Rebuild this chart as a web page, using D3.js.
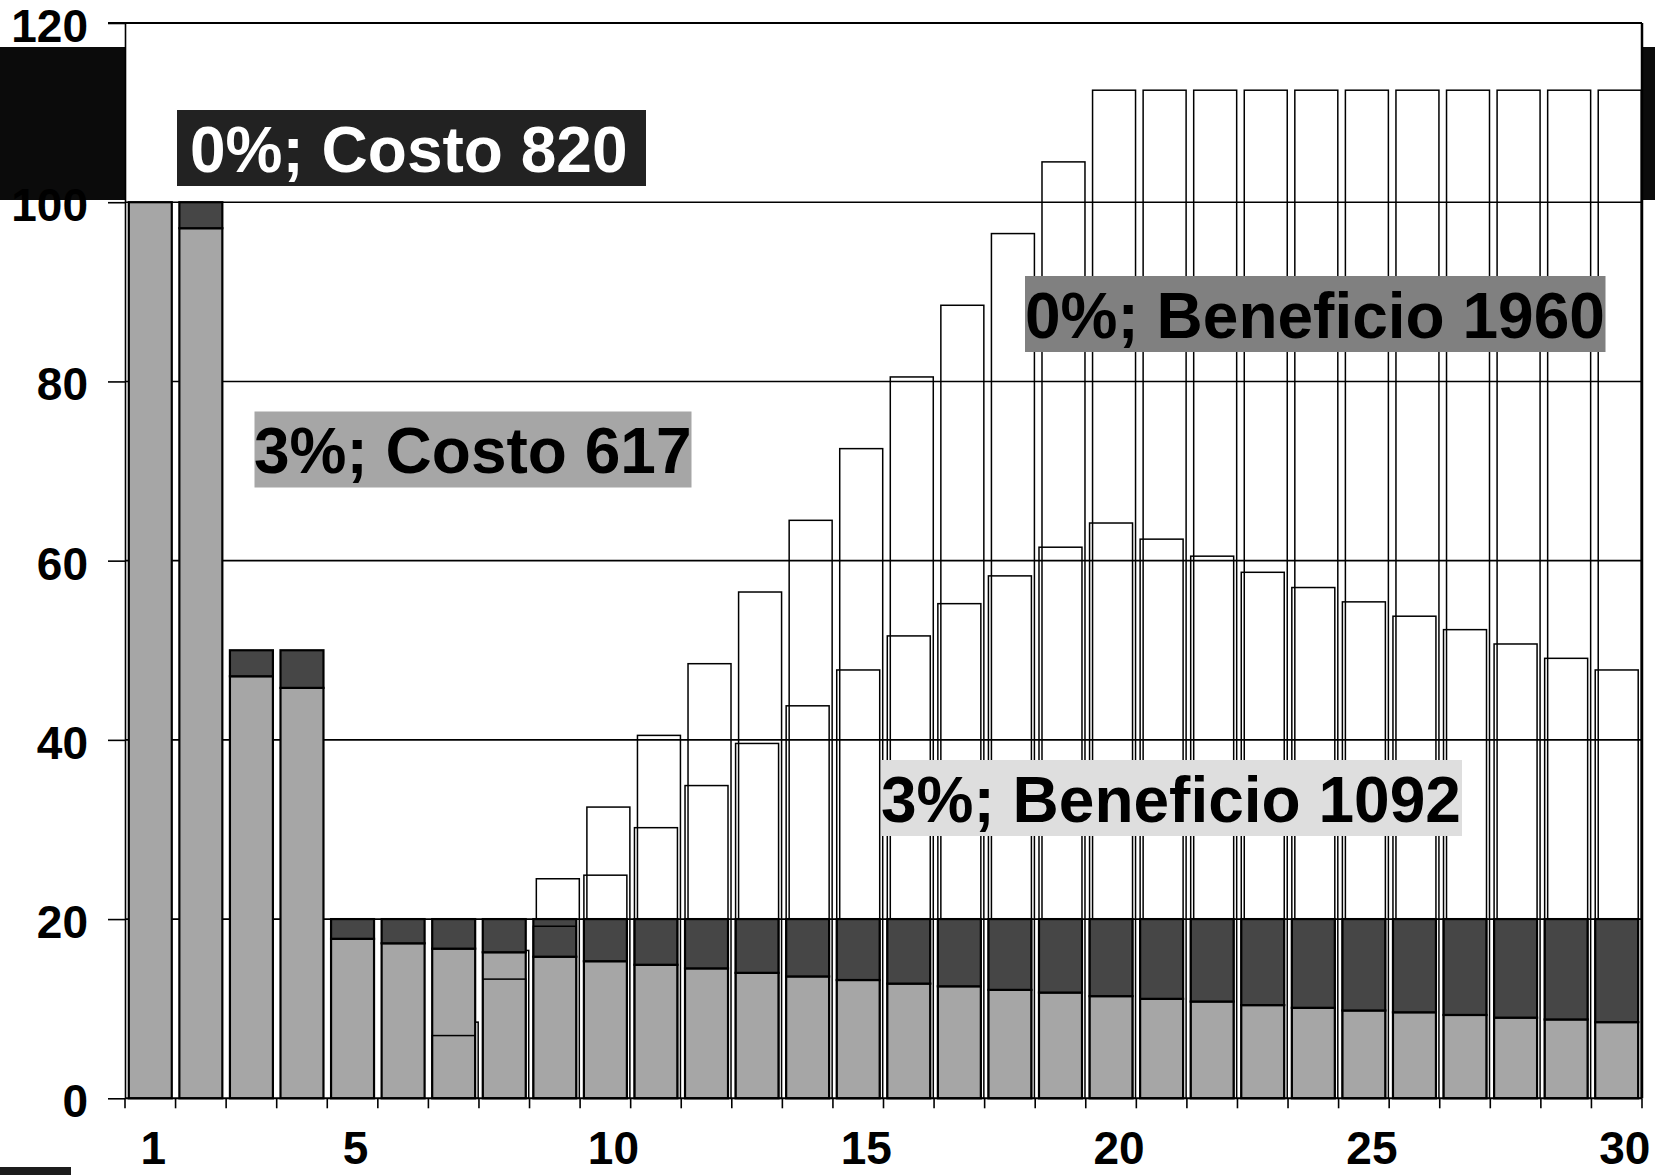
<!DOCTYPE html>
<html>
<head>
<meta charset="utf-8">
<script src="https://cdn.jsdelivr.net/npm/d3@7"></script>
<style>
  html, body { margin: 0; padding: 0; background: #fff; }
  svg { display: block; }
</style>
</head>
<body>
<svg id="chart" width="1655" height="1175"></svg>
<script>
// Year of the project
const years = [1, 2, 3, 4, 5, 6, 7, 8, 9, 10, 11, 12, 13, 14, 15,
               16, 17, 18, 19, 20, 21, 22, 23, 24, 25, 26, 27, 28, 29, 30];

// Yearly cost, undiscounted (0%)
const costAt0 = [100, 100, 50, 50, 20, 20, 20, 20, 20, 20, 20, 20, 20, 20, 20,
                 20, 20, 20, 20, 20, 20, 20, 20, 20, 20, 20, 20, 20, 20, 20];

// Yearly cost, discounted at 3%
const costAt3 = [100, 97.1, 47.1, 45.8, 17.8, 17.3, 16.7, 16.3, 15.8, 15.3, 14.9, 14.5, 14.0, 13.6, 13.2,
                 12.8, 12.5, 12.1, 11.8, 11.4, 11.1, 10.8, 10.4, 10.1, 9.8, 9.6, 9.3, 9.0, 8.8, 8.5];

// Yearly benefit, undiscounted (0%)
const benefitAt0 = [0, 0, 0, 0, 0, 0, 8.5, 16.5, 24.5, 32.5, 40.5, 48.5, 56.5, 64.5, 72.5,
                    80.5, 88.5, 96.5, 104.5, 112.5, 112.5, 112.5, 112.5, 112.5, 112.5, 112.5, 112.5, 112.5, 112.5, 112.5];

// Yearly benefit, discounted at 3%
const benefitAt3 = [0, 0, 0, 0, 0, 0, 7.0, 13.3, 19.2, 24.9, 30.2, 34.9, 39.6, 43.8, 47.8,
                    51.6, 55.2, 58.3, 61.5, 64.2, 62.4, 60.5, 58.7, 57.0, 55.4, 53.8, 52.3, 50.7, 49.1, 47.8];

const yTicks = [0, 20, 40, 60, 80, 100, 120];
const xTickLabels = [1, 5, 10, 15, 20, 25, 30];

const costLabels = ["0%; Costo 820", "3%; Costo 617"];
const benefitLabels = ["0%; Beneficio 1960", "3%; Beneficio 1092"];

// ---------------------------------------------------------------
const FONT = "'Liberation Sans', Arial, Helvetica, sans-serif";
const svg = d3.select("#chart");

const plotLeft = 125, plotRight = 1642, plotTop = 23, plotBottom = 1098.3;

const x = d3.scaleBand()
  .domain(years)
  .range([plotLeft, plotRight])
  .paddingInner(0.15)
  .paddingOuter(0.075);

const y = d3.scaleLinear()
  .domain([0, 120])
  .range([plotBottom, plotTop]);

const bw = x.bandwidth();
const rows = years.map((yr, i) => ({
  yr, c0: costAt0[i], c3: costAt3[i], b0: benefitAt0[i], b3: benefitAt3[i]
}));

// dark band running behind the slide
svg.append("rect")
  .attr("x", 0).attr("y", 47).attr("width", 1655).attr("height", 153)
  .attr("fill", "#0b0b0b");
svg.append("rect")
  .attr("x", 0).attr("y", 1167).attr("width", 71).attr("height", 8)
  .attr("fill", "#1c1c1c");

// plot background
svg.append("rect")
  .attr("x", plotLeft).attr("y", plotTop)
  .attr("width", plotRight - plotLeft).attr("height", plotBottom - plotTop)
  .attr("fill", "#fff");

// horizontal gridlines
svg.append("g")
  .selectAll("line")
  .data(yTicks.filter(v => v > 0 && v < 120))
  .join("line")
  .attr("x1", plotLeft).attr("x2", plotRight)
  .attr("y1", d => y(d)).attr("y2", d => y(d))
  .attr("stroke", "#000").attr("stroke-width", 1.6);

// undiscounted benefits: hollow bars, slightly shifted right, behind the costs
const shift0 = 3;
svg.append("g")
  .selectAll("rect")
  .data(rows.filter(d => d.b0 > 0))
  .join("rect")
  .attr("x", d => x(d.yr) + shift0)
  .attr("y", d => y(d.b0))
  .attr("width", bw)
  .attr("height", d => y(0) - y(d.b0))
  .attr("fill", "none")
  .attr("stroke", "#000").attr("stroke-width", 1.5);

// costs: discounted part in light grey, the rest up to the undiscounted value in dark grey
const costG = svg.append("g");
costG.selectAll("rect.c3")
  .data(rows)
  .join("rect")
  .attr("class", "c3")
  .attr("x", d => x(d.yr))
  .attr("y", d => y(d.c3))
  .attr("width", bw)
  .attr("height", d => y(0) - y(d.c3))
  .attr("fill", "#a6a6a6")
  .attr("stroke", "#000").attr("stroke-width", 2.2);
costG.selectAll("rect.c0")
  .data(rows.filter(d => d.c0 > d.c3))
  .join("rect")
  .attr("class", "c0")
  .attr("x", d => x(d.yr))
  .attr("y", d => y(d.c0))
  .attr("width", bw)
  .attr("height", d => y(d.c3) - y(d.c0))
  .attr("fill", "#464646")
  .attr("stroke", "#000").attr("stroke-width", 2.2);

// discounted benefits: hollow bars on top
svg.append("g")
  .selectAll("rect")
  .data(rows.filter(d => d.b3 > 0))
  .join("rect")
  .attr("x", d => x(d.yr))
  .attr("y", d => y(d.b3))
  .attr("width", bw)
  .attr("height", d => y(0) - y(d.b3))
  .attr("fill", "none")
  .attr("stroke", "#000").attr("stroke-width", 1.5);

// frame: top and right edges
svg.append("line")
  .attr("x1", 108).attr("x2", plotRight).attr("y1", plotTop).attr("y2", plotTop)
  .attr("stroke", "#000").attr("stroke-width", 2);
svg.append("line")
  .attr("x1", plotRight).attr("x2", plotRight).attr("y1", plotTop).attr("y2", plotBottom)
  .attr("stroke", "#000").attr("stroke-width", 2.5);

// y axis
const yAxis = svg.append("g")
  .attr("transform", `translate(${plotLeft},0)`)
  .call(d3.axisLeft(y).tickValues(yTicks).tickSize(17).tickSizeOuter(0).tickPadding(20));
yAxis.select(".domain").attr("stroke", "#000").attr("stroke-width", 1.6);
yAxis.selectAll(".tick line").attr("stroke", "#000").attr("stroke-width", 1.6);
yAxis.selectAll(".tick text")
  .attr("font-family", FONT).attr("font-weight", "bold").attr("font-size", 46)
  .attr("fill", "#000").attr("dy", "0.4em");

// x axis: baseline, ticks on year boundaries, labels on selected years
const step = x.step();
const boundaries = years.map(d => x(d) - step * x.paddingInner() / 2).concat([plotRight]);
svg.append("line")
  .attr("x1", plotLeft).attr("x2", plotRight).attr("y1", plotBottom).attr("y2", plotBottom)
  .attr("stroke", "#000").attr("stroke-width", 2);
svg.append("g")
  .selectAll("line")
  .data(boundaries)
  .join("line")
  .attr("x1", d => d).attr("x2", d => d)
  .attr("y1", plotBottom).attr("y2", plotBottom + 10)
  .attr("stroke", "#000").attr("stroke-width", 1.6);

const xAxis = svg.append("g")
  .attr("transform", `translate(0,${plotBottom})`)
  .call(d3.axisBottom(x).tickValues(xTickLabels).tickSize(0).tickSizeOuter(0));
xAxis.select(".domain").remove();
xAxis.selectAll(".tick text")
  .attr("font-family", FONT).attr("font-weight", "bold").attr("font-size", 46)
  .attr("fill", "#000")
  .attr("y", 1164 - plotBottom).attr("dy", 0)
  .attr("dx", d => (String(d).length > 1 ? 8 : 3));

// annotation boxes
const notes = [
  { text: costLabels[0],    bx: 177,  by: 110,   bwid: 469,   bg: "#222222", fg: "#fff", tx: 190 },
  { text: costLabels[1],    bx: 254.5, by: 411.5, bwid: 437,  bg: "#a6a6a6", fg: "#000", tx: 254 },
  { text: benefitLabels[0], bx: 1025, by: 276,   bwid: 580.5, bg: "#808080", fg: "#000", tx: 1025 },
  { text: benefitLabels[1], bx: 881,  by: 760,   bwid: 581,   bg: "#dedede", fg: "#000", tx: 881 }
];
const noteG = svg.append("g").selectAll("g").data(notes).join("g");
noteG.append("rect")
  .attr("x", d => d.bx).attr("y", d => d.by)
  .attr("width", d => d.bwid).attr("height", 76)
  .attr("fill", d => d.bg);
noteG.append("text")
  .attr("x", d => d.tx).attr("y", d => d.by + 61.5)
  .attr("font-family", FONT).attr("font-weight", "bold").attr("font-size", 64)
  .attr("fill", d => d.fg)
  .text(d => d.text);
</script>
</body>
</html>
